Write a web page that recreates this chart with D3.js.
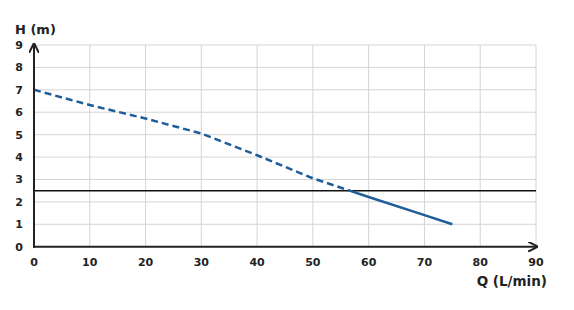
<!DOCTYPE html>
<html>
<head>
<meta charset="utf-8">
<script src="https://cdn.jsdelivr.net/npm/d3@7"></script>
<style>
  body { margin: 0; background: #fff; }
  text { font-family: "DejaVu Sans", sans-serif; font-weight: 700; fill: #222; }
</style>
</head>
<body>
<svg id="chart" width="574" height="310"></svg>
<script>
// pump curve
const flow = [0, 10, 20, 30, 40, 50, 56.6, 60, 70, 75]
const head = [7, 6.32, 5.72, 5.05, 4.08, 3.05, 2.5, 2.22, 1.41, 1.0]
const dutyHead = 2.5
const splitFlow = 56.6   // dashed before, solid after
const xTicks = [0, 10, 20, 30, 40, 50, 60, 70, 80, 90]
const yTicks = [0, 1, 2, 3, 4, 5, 6, 7, 8, 9]

const svg = d3.select("#chart")

const x = d3.scaleLinear().domain([0, 90]).range([34, 536])
const y = d3.scaleLinear().domain([0, 9]).range([246.7, 45])

const points = flow.map((q, i) => ({ q: q, h: head[i] }))

// grid
svg.append("g").selectAll("line")
    .data(xTicks.slice(1))
    .enter().append("line")
    .attr("x1", d => x(d)).attr("x2", d => x(d))
    .attr("y1", y(0)).attr("y2", y(9))
    .attr("stroke", "#d4d4d4").attr("stroke-width", 1)

svg.append("g").selectAll("line")
    .data(yTicks.slice(1))
    .enter().append("line")
    .attr("x1", x(0)).attr("x2", x(90))
    .attr("y1", d => y(d)).attr("y2", d => y(d))
    .attr("stroke", "#d4d4d4").attr("stroke-width", 1)

// duty line
svg.append("line")
    .attr("x1", x(0)).attr("x2", x(90))
    .attr("y1", y(dutyHead)).attr("y2", y(dutyHead))
    .attr("stroke", "#111").attr("stroke-width", 1.5)

const line = d3.line().x(d => x(d.q)).y(d => y(d.h))

svg.append("path")
    .datum(points.filter(d => d.q <= splitFlow))
    .attr("d", line)
    .attr("fill", "none")
    .attr("stroke", "#1f5d98")
    .attr("stroke-width", 2.5)
    .attr("stroke-dasharray", "7,4")

svg.append("path")
    .datum(points.filter(d => d.q >= splitFlow))
    .attr("d", line)
    .attr("fill", "none")
    .attr("stroke", "#1f5d98")
    .attr("stroke-width", 2.5)

// axes with arrows
svg.append("defs").append("marker")
    .attr("id", "arrow")
    .attr("viewBox", "0 0 10 10")
    .attr("refX", 8).attr("refY", 5)
    .attr("markerWidth", 5).attr("markerHeight", 5)
    .attr("orient", "auto")
  .append("path")
    .attr("d", "M0,0 L10,5 L0,10")
    .attr("fill", "none").attr("stroke", "#222").attr("stroke-width", 2)

svg.append("line")
    .attr("x1", x(0)).attr("x2", x(0))
    .attr("y1", y(0) + 1).attr("y2", y(9))
    .attr("stroke", "#222").attr("stroke-width", 2)
    .attr("marker-end", "url(#arrow)")

svg.append("line")
    .attr("x1", x(0) - 1).attr("x2", x(90))
    .attr("y1", y(0)).attr("y2", y(0))
    .attr("stroke", "#222").attr("stroke-width", 2)
    .attr("marker-end", "url(#arrow)")

// tick labels
svg.append("g").selectAll("text")
    .data(xTicks)
    .enter().append("text")
    .attr("x", d => x(d)).attr("y", 266)
    .attr("text-anchor", "middle")
    .attr("font-size", 11)
    .text(d => d)

svg.append("g").selectAll("text")
    .data(yTicks)
    .enter().append("text")
    .attr("x", 19).attr("y", d => y(d) + 4)
    .attr("text-anchor", "middle")
    .attr("font-size", 11)
    .text(d => d)

svg.append("text")
    .attr("x", 15).attr("y", 34)
    .attr("font-size", 13)
    .text("H (m)")

svg.append("text")
    .attr("x", 547).attr("y", 286)
    .attr("text-anchor", "end")
    .attr("font-size", 13.5)
    .text("Q (L/min)")
</script>
</body>
</html>
